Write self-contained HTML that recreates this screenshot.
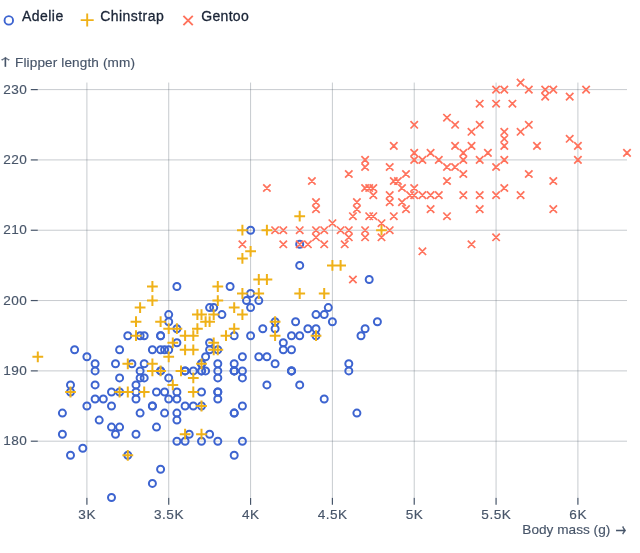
<!DOCTYPE html>
<html lang="en"><head><meta charset="utf-8"><title>Penguins</title>
<style>html,body{margin:0;padding:0;background:#fff}body{width:640px;height:553px;overflow:hidden}svg{display:block}text{font-family:"Liberation Sans",sans-serif}text.ar{font-family:"Noto Sans CJK JP","Liberation Sans",sans-serif}</style></head><body>
<svg width="640" height="553" viewBox="0 0 640 553">
<rect width="640" height="553" fill="#fff"/>
<g fill="none" stroke-width="1.9">
<circle cx="8.8" cy="20.4" r="4.25" stroke="#3d64d0"/>
<path d="M80.7,20.1H93.7M87.2,13.6V26.6" stroke="#efb118"/>
<path d="M183.4,15.8L192.8,25.2M192.8,15.8L183.4,25.2" stroke="#ff725c"/>
</g>
<g fill="#1a2436" stroke="#1a2436" stroke-width="0.3" font-size="14px">
<text x="22" y="20.7" textLength="41.2" lengthAdjust="spacing">Adelie</text>
<text x="100.3" y="20.7" textLength="63.4" lengthAdjust="spacing">Chinstrap</text>
<text x="201.3" y="20.7" textLength="47.4" lengthAdjust="spacing">Gentoo</text>
</g>
<g stroke="#44525f" stroke-opacity="0.3" stroke-width="1" fill="none">
<line x1="86.90" x2="86.90" y1="82.57" y2="497.46"/>
<line x1="168.73" x2="168.73" y1="82.57" y2="497.46"/>
<line x1="250.57" x2="250.57" y1="82.57" y2="497.46"/>
<line x1="332.40" x2="332.40" y1="82.57" y2="497.46"/>
<line x1="414.23" x2="414.23" y1="82.57" y2="497.46"/>
<line x1="496.07" x2="496.07" y1="82.57" y2="497.46"/>
<line x1="577.90" x2="577.90" y1="82.57" y2="497.46"/>
<line x1="37.80" x2="627.00" y1="441.20" y2="441.20"/>
<line x1="37.80" x2="627.00" y1="370.88" y2="370.88"/>
<line x1="37.80" x2="627.00" y1="300.56" y2="300.56"/>
<line x1="37.80" x2="627.00" y1="230.24" y2="230.24"/>
<line x1="37.80" x2="627.00" y1="159.92" y2="159.92"/>
<line x1="37.80" x2="627.00" y1="89.60" y2="89.60"/>
</g>
<g stroke="#475569" stroke-width="1.2" fill="none">
<line x1="86.90" x2="86.90" y1="497.86" y2="504.86"/>
<line x1="168.73" x2="168.73" y1="497.86" y2="504.86"/>
<line x1="250.57" x2="250.57" y1="497.86" y2="504.86"/>
<line x1="332.40" x2="332.40" y1="497.86" y2="504.86"/>
<line x1="414.23" x2="414.23" y1="497.86" y2="504.86"/>
<line x1="496.07" x2="496.07" y1="497.86" y2="504.86"/>
<line x1="577.90" x2="577.90" y1="497.86" y2="504.86"/>
<line x1="30.80" x2="37.80" y1="441.20" y2="441.20"/>
<line x1="30.80" x2="37.80" y1="370.88" y2="370.88"/>
<line x1="30.80" x2="37.80" y1="300.56" y2="300.56"/>
<line x1="30.80" x2="37.80" y1="230.24" y2="230.24"/>
<line x1="30.80" x2="37.80" y1="159.92" y2="159.92"/>
<line x1="30.80" x2="37.80" y1="89.60" y2="89.60"/>
</g>
<g fill="#475569" stroke="#475569" stroke-width="0.15" font-size="13.6px">
<g text-anchor="middle" letter-spacing="0.5">
<text x="87.15" y="518.6">3K</text>
<text x="168.98" y="518.6">3.5K</text>
<text x="250.82" y="518.6">4K</text>
<text x="332.65" y="518.6">4.5K</text>
<text x="414.48" y="518.6">5K</text>
<text x="496.32" y="518.6">5.5K</text>
<text x="578.15" y="518.6">6K</text>
</g><g text-anchor="end" letter-spacing="0.5">
<text x="27.40" y="445.40">180</text>
<text x="27.40" y="375.08">190</text>
<text x="27.40" y="304.76">200</text>
<text x="27.40" y="234.44">210</text>
<text x="27.40" y="164.12">220</text>
<text x="27.40" y="93.80">230</text>
</g>
<text class="ar" transform="translate(5.4,66.0) scale(1.3,0.8)" text-anchor="middle" stroke-width="0.25" font-size="13px">↑</text>
<text x="15" y="66.8" textLength="120" lengthAdjust="spacing">Flipper length (mm)</text>
<text x="522.3" y="534.1" textLength="88" lengthAdjust="spacing">Body mass (g)</text>
<text class="ar" transform="translate(620.9,535.6) scale(0.8,1.2)" text-anchor="middle" stroke-width="0.45" font-size="13px">→</text>
</g>
<g fill="none" stroke-width="2.0">
<g stroke="#3d64d0">
<circle cx="209.6" cy="434.2" r="3.5"/>
<circle cx="217.8" cy="399.0" r="3.5"/>
<circle cx="127.8" cy="335.7" r="3.5"/>
<circle cx="160.6" cy="349.8" r="3.5"/>
<circle cx="193.3" cy="370.9" r="3.5"/>
<circle cx="189.2" cy="434.2" r="3.5"/>
<circle cx="361.0" cy="335.7" r="3.5"/>
<circle cx="164.6" cy="349.8" r="3.5"/>
<circle cx="291.5" cy="370.9" r="3.5"/>
<circle cx="136.0" cy="399.0" r="3.5"/>
<circle cx="201.5" cy="441.2" r="3.5"/>
<circle cx="119.6" cy="427.1" r="3.5"/>
<circle cx="217.8" cy="363.8" r="3.5"/>
<circle cx="316.0" cy="314.6" r="3.5"/>
<circle cx="201.5" cy="406.0" r="3.5"/>
<circle cx="160.6" cy="335.7" r="3.5"/>
<circle cx="332.4" cy="321.7" r="3.5"/>
<circle cx="140.1" cy="413.1" r="3.5"/>
<circle cx="283.3" cy="342.8" r="3.5"/>
<circle cx="152.4" cy="483.4" r="3.5"/>
<circle cx="185.1" cy="441.2" r="3.5"/>
<circle cx="217.8" cy="377.9" r="3.5"/>
<circle cx="242.4" cy="406.0" r="3.5"/>
<circle cx="217.8" cy="441.2" r="3.5"/>
<circle cx="217.8" cy="392.0" r="3.5"/>
<circle cx="176.9" cy="420.1" r="3.5"/>
<circle cx="119.6" cy="392.0" r="3.5"/>
<circle cx="111.5" cy="497.5" r="3.5"/>
<circle cx="242.4" cy="441.2" r="3.5"/>
<circle cx="127.8" cy="455.3" r="3.5"/>
<circle cx="234.2" cy="455.3" r="3.5"/>
<circle cx="136.0" cy="384.9" r="3.5"/>
<circle cx="234.2" cy="413.1" r="3.5"/>
<circle cx="140.1" cy="335.7" r="3.5"/>
<circle cx="275.1" cy="328.7" r="3.5"/>
<circle cx="242.4" cy="370.9" r="3.5"/>
<circle cx="176.9" cy="441.2" r="3.5"/>
<circle cx="136.0" cy="434.2" r="3.5"/>
<circle cx="356.9" cy="413.1" r="3.5"/>
<circle cx="111.5" cy="427.1" r="3.5"/>
<circle cx="234.2" cy="335.7" r="3.5"/>
<circle cx="103.3" cy="399.0" r="3.5"/>
<circle cx="316.0" cy="328.7" r="3.5"/>
<circle cx="86.9" cy="406.0" r="3.5"/>
<circle cx="348.8" cy="370.9" r="3.5"/>
<circle cx="156.5" cy="427.1" r="3.5"/>
<circle cx="82.8" cy="448.2" r="3.5"/>
<circle cx="160.6" cy="370.9" r="3.5"/>
<circle cx="275.1" cy="363.8" r="3.5"/>
<circle cx="168.7" cy="399.0" r="3.5"/>
<circle cx="299.7" cy="384.9" r="3.5"/>
<circle cx="160.6" cy="370.9" r="3.5"/>
<circle cx="258.8" cy="300.6" r="3.5"/>
<circle cx="70.5" cy="392.0" r="3.5"/>
<circle cx="201.5" cy="363.8" r="3.5"/>
<circle cx="176.9" cy="399.0" r="3.5"/>
<circle cx="217.8" cy="349.8" r="3.5"/>
<circle cx="62.4" cy="434.2" r="3.5"/>
<circle cx="209.6" cy="342.8" r="3.5"/>
<circle cx="111.5" cy="406.0" r="3.5"/>
<circle cx="316.0" cy="335.7" r="3.5"/>
<circle cx="185.1" cy="406.0" r="3.5"/>
<circle cx="258.8" cy="356.8" r="3.5"/>
<circle cx="62.4" cy="413.1" r="3.5"/>
<circle cx="242.4" cy="356.8" r="3.5"/>
<circle cx="144.2" cy="335.7" r="3.5"/>
<circle cx="266.9" cy="384.9" r="3.5"/>
<circle cx="95.1" cy="370.9" r="3.5"/>
<circle cx="324.2" cy="314.6" r="3.5"/>
<circle cx="185.1" cy="370.9" r="3.5"/>
<circle cx="234.2" cy="370.9" r="3.5"/>
<circle cx="176.9" cy="328.7" r="3.5"/>
<circle cx="275.1" cy="321.7" r="3.5"/>
<circle cx="201.5" cy="370.9" r="3.5"/>
<circle cx="291.5" cy="335.7" r="3.5"/>
<circle cx="201.5" cy="363.8" r="3.5"/>
<circle cx="234.2" cy="413.1" r="3.5"/>
<circle cx="176.9" cy="392.0" r="3.5"/>
<circle cx="250.6" cy="335.7" r="3.5"/>
<circle cx="119.6" cy="377.9" r="3.5"/>
<circle cx="365.1" cy="328.7" r="3.5"/>
<circle cx="217.8" cy="392.0" r="3.5"/>
<circle cx="283.3" cy="349.8" r="3.5"/>
<circle cx="144.2" cy="363.8" r="3.5"/>
<circle cx="176.9" cy="342.8" r="3.5"/>
<circle cx="217.8" cy="370.9" r="3.5"/>
<circle cx="168.7" cy="377.9" r="3.5"/>
<circle cx="242.4" cy="377.9" r="3.5"/>
<circle cx="185.1" cy="370.9" r="3.5"/>
<circle cx="176.9" cy="286.5" r="3.5"/>
<circle cx="299.7" cy="265.4" r="3.5"/>
<circle cx="152.4" cy="406.0" r="3.5"/>
<circle cx="324.2" cy="399.0" r="3.5"/>
<circle cx="136.0" cy="392.0" r="3.5"/>
<circle cx="299.7" cy="244.3" r="3.5"/>
<circle cx="201.5" cy="370.9" r="3.5"/>
<circle cx="307.9" cy="328.7" r="3.5"/>
<circle cx="70.5" cy="455.3" r="3.5"/>
<circle cx="266.9" cy="356.8" r="3.5"/>
<circle cx="205.6" cy="356.8" r="3.5"/>
<circle cx="369.2" cy="279.5" r="3.5"/>
<circle cx="99.2" cy="420.1" r="3.5"/>
<circle cx="291.5" cy="370.9" r="3.5"/>
<circle cx="74.6" cy="349.8" r="3.5"/>
<circle cx="176.9" cy="413.1" r="3.5"/>
<circle cx="209.6" cy="307.6" r="3.5"/>
<circle cx="234.2" cy="370.9" r="3.5"/>
<circle cx="115.5" cy="434.2" r="3.5"/>
<circle cx="377.4" cy="321.7" r="3.5"/>
<circle cx="221.9" cy="314.6" r="3.5"/>
<circle cx="348.8" cy="363.8" r="3.5"/>
<circle cx="119.6" cy="349.8" r="3.5"/>
<circle cx="295.6" cy="321.7" r="3.5"/>
<circle cx="234.2" cy="363.8" r="3.5"/>
<circle cx="262.8" cy="328.7" r="3.5"/>
<circle cx="70.5" cy="384.9" r="3.5"/>
<circle cx="213.7" cy="307.6" r="3.5"/>
<circle cx="144.2" cy="377.9" r="3.5"/>
<circle cx="140.1" cy="377.9" r="3.5"/>
<circle cx="111.5" cy="392.0" r="3.5"/>
<circle cx="168.7" cy="314.6" r="3.5"/>
<circle cx="160.6" cy="469.3" r="3.5"/>
<circle cx="230.1" cy="286.5" r="3.5"/>
<circle cx="95.1" cy="399.0" r="3.5"/>
<circle cx="250.6" cy="307.6" r="3.5"/>
<circle cx="131.9" cy="363.8" r="3.5"/>
<circle cx="299.7" cy="335.7" r="3.5"/>
<circle cx="95.1" cy="363.8" r="3.5"/>
<circle cx="250.6" cy="230.2" r="3.5"/>
<circle cx="140.1" cy="370.9" r="3.5"/>
<circle cx="168.7" cy="321.7" r="3.5"/>
<circle cx="168.7" cy="349.8" r="3.5"/>
<circle cx="328.3" cy="307.6" r="3.5"/>
<circle cx="156.5" cy="392.0" r="3.5"/>
<circle cx="234.2" cy="370.9" r="3.5"/>
<circle cx="115.5" cy="363.8" r="3.5"/>
<circle cx="246.5" cy="300.6" r="3.5"/>
<circle cx="152.4" cy="406.0" r="3.5"/>
<circle cx="291.5" cy="349.8" r="3.5"/>
<circle cx="152.4" cy="349.8" r="3.5"/>
<circle cx="164.6" cy="392.0" r="3.5"/>
<circle cx="95.1" cy="384.9" r="3.5"/>
<circle cx="205.6" cy="370.9" r="3.5"/>
<circle cx="86.9" cy="356.8" r="3.5"/>
<circle cx="193.3" cy="406.0" r="3.5"/>
<circle cx="291.5" cy="370.9" r="3.5"/>
<circle cx="164.6" cy="413.1" r="3.5"/>
<circle cx="160.6" cy="335.7" r="3.5"/>
<circle cx="209.6" cy="349.8" r="3.5"/>
<circle cx="201.5" cy="392.0" r="3.5"/>
<circle cx="250.6" cy="293.5" r="3.5"/>
</g>
<path stroke="#efb118" d="M163.3,356.8h10.8M168.7,351.4v10.8M228.8,328.7h10.8M234.2,323.3v10.8M187.9,349.8h10.8M193.3,344.4v10.8M167.4,384.9h10.8M172.8,379.5v10.8M200.2,321.7h10.8M205.6,316.3v10.8M237.0,314.6h10.8M242.4,309.2v10.8M122.4,455.3h10.8M127.8,449.9v10.8M204.2,321.7h10.8M209.6,316.3v10.8M269.7,335.7h10.8M275.1,330.3v10.8M196.1,314.6h10.8M201.5,309.2v10.8M212.4,349.8h10.8M217.8,344.4v10.8M208.3,342.8h10.8M213.7,337.4v10.8M196.1,406.0h10.8M201.5,400.6v10.8M253.3,293.5h10.8M258.8,288.1v10.8M175.6,370.9h10.8M181.0,365.5v10.8M253.3,293.5h10.8M258.8,288.1v10.8M130.6,321.7h10.8M136.0,316.3v10.8M196.1,434.2h10.8M201.5,428.8v10.8M155.2,370.9h10.8M160.6,365.5v10.8M310.6,335.7h10.8M316.0,330.3v10.8M179.7,434.2h10.8M185.1,428.8v10.8M147.0,363.8h10.8M152.4,358.4v10.8M65.1,392.0h10.8M70.5,386.6v10.8M212.4,349.8h10.8M217.8,344.4v10.8M130.6,335.7h10.8M136.0,330.3v10.8M269.7,321.7h10.8M275.1,316.3v10.8M147.0,300.6h10.8M152.4,295.2v10.8M212.4,300.6h10.8M217.8,295.2v10.8M196.1,363.8h10.8M201.5,358.4v10.8M335.2,265.4h10.8M340.6,260.0v10.8M114.2,392.0h10.8M119.6,386.6v10.8M294.3,293.5h10.8M299.7,288.1v10.8M138.8,392.0h10.8M144.2,386.6v10.8M261.5,279.5h10.8M266.9,274.1v10.8M179.7,335.7h10.8M185.1,330.3v10.8M228.8,307.6h10.8M234.2,302.2v10.8M220.6,335.7h10.8M226.0,330.3v10.8M376.1,230.2h10.8M381.5,224.8v10.8M32.4,356.8h10.8M37.8,351.4v10.8M327.0,265.4h10.8M332.4,260.0v10.8M237.0,230.2h10.8M242.4,224.8v10.8M187.9,392.0h10.8M193.3,386.6v10.8M171.5,328.7h10.8M176.9,323.3v10.8M163.3,328.7h10.8M168.7,323.3v10.8M192.0,328.7h10.8M197.4,323.3v10.8M318.8,293.5h10.8M324.2,288.1v10.8M147.0,370.9h10.8M152.4,365.5v10.8M294.3,216.2h10.8M299.7,210.8v10.8M122.4,392.0h10.8M127.8,386.6v10.8M192.0,314.6h10.8M197.4,309.2v10.8M134.7,307.6h10.8M140.1,302.2v10.8M237.0,293.5h10.8M242.4,288.1v10.8M179.7,349.8h10.8M185.1,344.4v10.8M253.3,279.5h10.8M258.8,274.1v10.8M138.8,392.0h10.8M144.2,386.6v10.8M155.2,321.7h10.8M160.6,316.3v10.8M122.4,363.8h10.8M127.8,358.4v10.8M253.3,279.5h10.8M258.8,274.1v10.8M212.4,286.5h10.8M217.8,281.1v10.8M167.4,342.8h10.8M172.8,337.4v10.8M237.0,258.4h10.8M242.4,253.0v10.8M187.9,377.9h10.8M193.3,372.5v10.8M187.9,335.7h10.8M193.3,330.3v10.8M245.2,251.3h10.8M250.6,245.9v10.8M147.0,286.5h10.8M152.4,281.1v10.8M208.3,349.8h10.8M213.7,344.4v10.8M261.5,230.2h10.8M266.9,224.8v10.8M208.3,314.6h10.8M213.7,309.2v10.8"/>
<path stroke="#ff725c" stroke-width="1.75" d="M328.7,219.5l7.4,7.4m0,-7.4l-7.4,7.4M525.1,85.9l7.4,7.4m0,-7.4l-7.4,7.4M320.5,226.5l7.4,7.4m0,-7.4l-7.4,7.4M525.1,170.3l7.4,7.4m0,-7.4l-7.4,7.4M476.0,191.4l7.4,7.4m0,-7.4l-7.4,7.4M336.9,226.5l7.4,7.4m0,-7.4l-7.4,7.4M377.8,219.5l7.4,7.4m0,-7.4l-7.4,7.4M443.3,163.3l7.4,7.4m0,-7.4l-7.4,7.4M312.3,233.6l7.4,7.4m0,-7.4l-7.4,7.4M435.1,191.4l7.4,7.4m0,-7.4l-7.4,7.4M353.2,198.4l7.4,7.4m0,-7.4l-7.4,7.4M500.6,184.3l7.4,7.4m0,-7.4l-7.4,7.4M353.2,198.4l7.4,7.4m0,-7.4l-7.4,7.4M549.6,205.4l7.4,7.4m0,-7.4l-7.4,7.4M279.6,226.5l7.4,7.4m0,-7.4l-7.4,7.4M549.6,177.3l7.4,7.4m0,-7.4l-7.4,7.4M271.4,226.5l7.4,7.4m0,-7.4l-7.4,7.4M623.3,149.2l7.4,7.4m0,-7.4l-7.4,7.4M377.8,233.6l7.4,7.4m0,-7.4l-7.4,7.4M467.8,142.2l7.4,7.4m0,-7.4l-7.4,7.4M525.1,170.3l7.4,7.4m0,-7.4l-7.4,7.4M410.5,191.4l7.4,7.4m0,-7.4l-7.4,7.4M312.3,205.4l7.4,7.4m0,-7.4l-7.4,7.4M418.7,191.4l7.4,7.4m0,-7.4l-7.4,7.4M410.5,191.4l7.4,7.4m0,-7.4l-7.4,7.4M426.9,191.4l7.4,7.4m0,-7.4l-7.4,7.4M263.2,184.3l7.4,7.4m0,-7.4l-7.4,7.4M516.9,191.4l7.4,7.4m0,-7.4l-7.4,7.4M345.1,226.5l7.4,7.4m0,-7.4l-7.4,7.4M500.6,156.2l7.4,7.4m0,-7.4l-7.4,7.4M451.4,142.2l7.4,7.4m0,-7.4l-7.4,7.4M361.4,233.6l7.4,7.4m0,-7.4l-7.4,7.4M418.7,247.6l7.4,7.4m0,-7.4l-7.4,7.4M582.4,85.9l7.4,7.4m0,-7.4l-7.4,7.4M435.1,156.2l7.4,7.4m0,-7.4l-7.4,7.4M476.0,156.2l7.4,7.4m0,-7.4l-7.4,7.4M402.3,205.4l7.4,7.4m0,-7.4l-7.4,7.4M451.4,163.3l7.4,7.4m0,-7.4l-7.4,7.4M304.2,240.6l7.4,7.4m0,-7.4l-7.4,7.4M467.8,240.6l7.4,7.4m0,-7.4l-7.4,7.4M238.7,240.6l7.4,7.4m0,-7.4l-7.4,7.4M525.1,121.1l7.4,7.4m0,-7.4l-7.4,7.4M296.0,226.5l7.4,7.4m0,-7.4l-7.4,7.4M369.6,184.3l7.4,7.4m0,-7.4l-7.4,7.4M500.6,142.2l7.4,7.4m0,-7.4l-7.4,7.4M394.2,177.3l7.4,7.4m0,-7.4l-7.4,7.4M279.6,226.5l7.4,7.4m0,-7.4l-7.4,7.4M476.0,121.1l7.4,7.4m0,-7.4l-7.4,7.4M426.9,205.4l7.4,7.4m0,-7.4l-7.4,7.4M459.6,191.4l7.4,7.4m0,-7.4l-7.4,7.4M386.0,226.5l7.4,7.4m0,-7.4l-7.4,7.4M459.6,156.2l7.4,7.4m0,-7.4l-7.4,7.4M312.3,226.5l7.4,7.4m0,-7.4l-7.4,7.4M410.5,121.1l7.4,7.4m0,-7.4l-7.4,7.4M394.2,177.3l7.4,7.4m0,-7.4l-7.4,7.4M418.7,156.2l7.4,7.4m0,-7.4l-7.4,7.4M296.0,240.6l7.4,7.4m0,-7.4l-7.4,7.4M410.5,156.2l7.4,7.4m0,-7.4l-7.4,7.4M320.5,240.6l7.4,7.4m0,-7.4l-7.4,7.4M500.6,128.1l7.4,7.4m0,-7.4l-7.4,7.4M279.6,240.6l7.4,7.4m0,-7.4l-7.4,7.4M459.6,149.2l7.4,7.4m0,-7.4l-7.4,7.4M312.3,198.4l7.4,7.4m0,-7.4l-7.4,7.4M516.9,78.9l7.4,7.4m0,-7.4l-7.4,7.4M361.4,163.3l7.4,7.4m0,-7.4l-7.4,7.4M525.1,85.9l7.4,7.4m0,-7.4l-7.4,7.4M353.2,198.4l7.4,7.4m0,-7.4l-7.4,7.4M541.5,92.9l7.4,7.4m0,-7.4l-7.4,7.4M361.4,156.2l7.4,7.4m0,-7.4l-7.4,7.4M500.6,135.1l7.4,7.4m0,-7.4l-7.4,7.4M369.6,184.3l7.4,7.4m0,-7.4l-7.4,7.4M410.5,149.2l7.4,7.4m0,-7.4l-7.4,7.4M426.9,149.2l7.4,7.4m0,-7.4l-7.4,7.4M443.3,177.3l7.4,7.4m0,-7.4l-7.4,7.4M361.4,184.3l7.4,7.4m0,-7.4l-7.4,7.4M541.5,85.9l7.4,7.4m0,-7.4l-7.4,7.4M345.1,233.6l7.4,7.4m0,-7.4l-7.4,7.4M574.2,156.2l7.4,7.4m0,-7.4l-7.4,7.4M369.6,191.4l7.4,7.4m0,-7.4l-7.4,7.4M566.0,135.1l7.4,7.4m0,-7.4l-7.4,7.4M349.2,212.5l7.4,7.4m0,-7.4l-7.4,7.4M484.2,149.2l7.4,7.4m0,-7.4l-7.4,7.4M365.5,212.5l7.4,7.4m0,-7.4l-7.4,7.4M467.8,128.1l7.4,7.4m0,-7.4l-7.4,7.4M369.6,212.5l7.4,7.4m0,-7.4l-7.4,7.4M508.7,100.0l7.4,7.4m0,-7.4l-7.4,7.4M345.1,170.3l7.4,7.4m0,-7.4l-7.4,7.4M459.6,170.3l7.4,7.4m0,-7.4l-7.4,7.4M390.1,212.5l7.4,7.4m0,-7.4l-7.4,7.4M500.6,85.9l7.4,7.4m0,-7.4l-7.4,7.4M402.3,170.3l7.4,7.4m0,-7.4l-7.4,7.4M476.0,100.0l7.4,7.4m0,-7.4l-7.4,7.4M369.6,212.5l7.4,7.4m0,-7.4l-7.4,7.4M516.9,128.1l7.4,7.4m0,-7.4l-7.4,7.4M386.0,198.4l7.4,7.4m0,-7.4l-7.4,7.4M443.3,114.0l7.4,7.4m0,-7.4l-7.4,7.4M398.3,184.3l7.4,7.4m0,-7.4l-7.4,7.4M390.1,142.2l7.4,7.4m0,-7.4l-7.4,7.4M349.2,275.8l7.4,7.4m0,-7.4l-7.4,7.4M451.4,121.1l7.4,7.4m0,-7.4l-7.4,7.4M386.0,163.3l7.4,7.4m0,-7.4l-7.4,7.4M508.7,100.0l7.4,7.4m0,-7.4l-7.4,7.4M406.4,191.4l7.4,7.4m0,-7.4l-7.4,7.4M492.4,100.0l7.4,7.4m0,-7.4l-7.4,7.4M365.5,184.3l7.4,7.4m0,-7.4l-7.4,7.4M492.4,191.4l7.4,7.4m0,-7.4l-7.4,7.4M361.4,226.5l7.4,7.4m0,-7.4l-7.4,7.4M492.4,163.3l7.4,7.4m0,-7.4l-7.4,7.4M341.0,240.6l7.4,7.4m0,-7.4l-7.4,7.4M492.4,233.6l7.4,7.4m0,-7.4l-7.4,7.4M410.5,184.3l7.4,7.4m0,-7.4l-7.4,7.4M566.0,92.9l7.4,7.4m0,-7.4l-7.4,7.4M353.2,205.4l7.4,7.4m0,-7.4l-7.4,7.4M492.4,85.9l7.4,7.4m0,-7.4l-7.4,7.4M308.2,177.3l7.4,7.4m0,-7.4l-7.4,7.4M549.6,85.9l7.4,7.4m0,-7.4l-7.4,7.4M390.1,177.3l7.4,7.4m0,-7.4l-7.4,7.4M574.2,142.2l7.4,7.4m0,-7.4l-7.4,7.4M398.3,198.4l7.4,7.4m0,-7.4l-7.4,7.4M386.0,191.4l7.4,7.4m0,-7.4l-7.4,7.4M533.3,142.2l7.4,7.4m0,-7.4l-7.4,7.4M443.3,212.5l7.4,7.4m0,-7.4l-7.4,7.4M476.0,205.4l7.4,7.4m0,-7.4l-7.4,7.4"/>
</g>
</svg></body></html>
